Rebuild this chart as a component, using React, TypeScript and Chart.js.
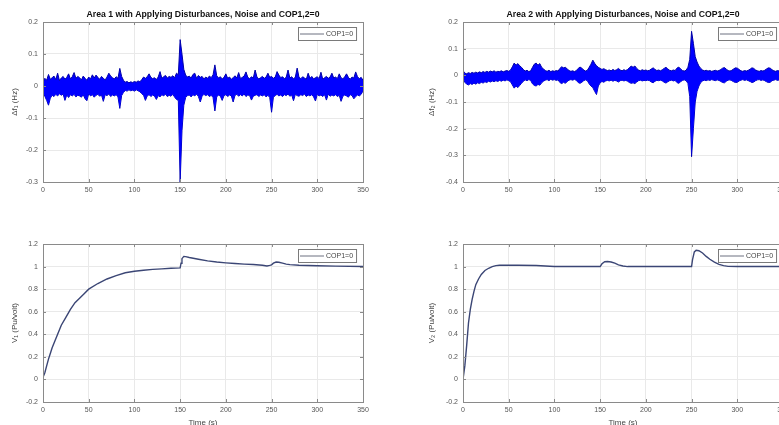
import { useEffect, useRef } from "react";
import { Chart, registerables } from "chart.js";

Chart.register(...registerables);

const FONT_FAMILY = "'Liberation Sans', Arial, Helvetica, sans-serif";
const CANVAS_W = 800;
const CANVAS_H = 440;
const VIEW_W = 779;
const VIEW_H = 425;

// time axis (s)
const TIME_MIN = 0;
const TIME_MAX = 350;
const TIME_TICK = 50;
// the frequency-deviation records are stored every 2 s
const SAMPLE_STEP = 2;

const TITLE_AREA1 = "Area 1 with Applying Disturbances, Noise and COP1,2=0";
const TITLE_AREA2 = "Area 2 with Applying Disturbances, Noise and COP1,2=0";
const LEGEND_LABEL = "COP1=0";
const Y_LABEL_F1 = "Δf₁ (Hz)";
const Y_LABEL_F2 = "Δf₂ (Hz)";
const Y_LABEL_V1 = "V₁ (Pu/volt)";
const Y_LABEL_V2 = "V₂ (Pu/volt)";
const X_LABEL = "Time (s)";

// Area 1 frequency deviation: upper / lower envelope of the noisy trace (Hz)
const F1_HI = [
  0.012, 0.024, 0.018, 0.036, 0.021, 0.026, 0.031, 0.020, 0.040, 0.017,
  0.025, 0.030, 0.021, 0.027, 0.038, 0.022, 0.029, 0.042, 0.024, 0.030,
  0.026, 0.019, 0.031, 0.024, 0.018, 0.028, 0.022, 0.035, 0.025, 0.034,
  0.027, 0.021, 0.030, 0.024, 0.019, 0.028, 0.040, 0.031, 0.026, 0.022,
  0.029, 0.024, 0.055, 0.030, 0.018, 0.012, 0.014, 0.010, 0.013, 0.011,
  0.014, 0.012, 0.016, 0.013, 0.020, 0.028, 0.024, 0.029, 0.038, 0.027,
  0.023, 0.026, 0.020, 0.028, 0.045, 0.024, 0.029, 0.033, 0.025, 0.030,
  0.027, 0.032, 0.026, 0.040, 0.035, 0.145, 0.100, 0.052, 0.034, 0.028,
  0.031, 0.025, 0.036, 0.040, 0.024, 0.033, 0.027, 0.030, 0.022, 0.028,
  0.024, 0.031, 0.026, 0.035, 0.066, 0.032, 0.025, 0.029, 0.022, 0.027,
  0.038, 0.024, 0.028, 0.021, 0.026, 0.032, 0.025, 0.042, 0.023, 0.027,
  0.031, 0.044, 0.027, 0.023, 0.029, 0.025, 0.050, 0.028, 0.022, 0.026,
  0.030, 0.024, 0.028, 0.040, 0.027, 0.030, 0.024, 0.028, 0.045, 0.034,
  0.026, 0.029, 0.023, 0.027, 0.050, 0.025, 0.029, 0.022, 0.028, 0.056,
  0.027, 0.023, 0.029, 0.025, 0.021, 0.040, 0.024, 0.030, 0.022, 0.026,
  0.029, 0.023, 0.043, 0.021, 0.026, 0.030, 0.024, 0.028, 0.040, 0.025,
  0.028, 0.023, 0.038, 0.026, 0.022, 0.029, 0.038, 0.027, 0.021, 0.028,
  0.025, 0.044, 0.029, 0.023, 0.027, 0.018,
];
const F1_LO = [
  -0.020, -0.032, -0.045, -0.060, -0.038, -0.029, -0.033, -0.026, -0.031, -0.024,
  -0.029, -0.025, -0.045, -0.028, -0.036, -0.027, -0.031, -0.026, -0.034, -0.029,
  -0.031, -0.035, -0.027, -0.040, -0.046, -0.024, -0.031, -0.027, -0.035, -0.029,
  -0.026, -0.032, -0.028, -0.048, -0.027, -0.030, -0.025, -0.033, -0.028, -0.031,
  -0.027, -0.034, -0.070, -0.030, -0.020, -0.014, -0.016, -0.012, -0.015, -0.013,
  -0.016, -0.012, -0.015, -0.018, -0.024, -0.029, -0.045, -0.031, -0.027, -0.033,
  -0.028, -0.032, -0.042, -0.030, -0.034, -0.027, -0.031, -0.025, -0.033, -0.029,
  -0.032, -0.026, -0.035, -0.042, -0.045, -0.300, -0.140, -0.060, -0.036, -0.030,
  -0.028, -0.034, -0.027, -0.031, -0.025, -0.033, -0.050, -0.032, -0.026, -0.030,
  -0.027, -0.033, -0.029, -0.036, -0.078, -0.034, -0.028, -0.032, -0.045, -0.030,
  -0.027, -0.033, -0.028, -0.031, -0.050, -0.029, -0.026, -0.032, -0.027, -0.031,
  -0.025, -0.033, -0.028, -0.030, -0.044, -0.032, -0.029, -0.027, -0.033, -0.028,
  -0.031, -0.027, -0.034, -0.029, -0.036, -0.082, -0.035, -0.030, -0.026, -0.031,
  -0.028, -0.033, -0.027, -0.030, -0.025, -0.032, -0.028, -0.046, -0.026, -0.030,
  -0.032, -0.027, -0.030, -0.025, -0.033, -0.028, -0.031, -0.027, -0.034, -0.047,
  -0.026, -0.031, -0.028, -0.033, -0.027, -0.044, -0.025, -0.032, -0.028, -0.031,
  -0.027, -0.033, -0.029, -0.048, -0.032, -0.028, -0.031, -0.035, -0.027, -0.030,
  -0.040, -0.033, -0.028, -0.031, -0.026, -0.015,
];

// Area 2 frequency deviation: upper / lower envelope (Hz)
const F2_HI = [
  0.018, 0.008, 0.006, 0.010, 0.007, 0.011, 0.008, 0.012, 0.009, 0.013,
  0.010, 0.014, 0.011, 0.015, 0.012, 0.016, 0.013, 0.017, 0.012, 0.015,
  0.014, 0.017, 0.013, 0.016, 0.018, 0.015, 0.020, 0.032, 0.046, 0.038,
  0.044, 0.036, 0.030, 0.022, 0.016, 0.019, 0.014, 0.017, 0.030, 0.042,
  0.046, 0.038, 0.044, 0.030, 0.024, 0.018, 0.015, 0.019, 0.014, 0.017,
  0.015, 0.018, 0.016, 0.026, 0.032, 0.028, 0.030, 0.024, 0.018, 0.015,
  0.017, 0.014, 0.018, 0.026, 0.031, 0.027, 0.020, 0.016, 0.019, 0.030,
  0.042, 0.057, 0.045, 0.036, 0.030, 0.026, 0.022, 0.025, 0.021, 0.018,
  0.020, 0.017, 0.022, 0.018, 0.021, 0.026, 0.020, 0.017, 0.021, 0.018,
  0.022, 0.028, 0.035, 0.030, 0.035, 0.026, 0.020, 0.017, 0.021, 0.018,
  0.020, 0.017, 0.019, 0.024, 0.028, 0.022, 0.018, 0.020, 0.017, 0.021,
  0.026, 0.030, 0.024, 0.019, 0.017, 0.020, 0.018, 0.027, 0.031, 0.024,
  0.018, 0.016, 0.019, 0.030, 0.060, 0.165, 0.120, 0.070, 0.050, 0.035,
  0.026, 0.020, 0.017, 0.019, 0.016, 0.018, 0.015, 0.017, 0.019, 0.016,
  0.018, 0.022, 0.027, 0.029, 0.023, 0.018, 0.016, 0.019, 0.024, 0.028,
  0.027, 0.022, 0.017, 0.015, 0.018, 0.016, 0.019, 0.023, 0.028, 0.026,
  0.020, 0.017, 0.015, 0.018, 0.016, 0.019, 0.024, 0.028, 0.027, 0.021,
  0.017, 0.015, 0.018, 0.016, 0.014, 0.012,
];
const F2_LO = [
  -0.005, -0.026, -0.033, -0.036, -0.031, -0.034, -0.029, -0.033, -0.028, -0.031,
  -0.026, -0.029, -0.024, -0.027, -0.022, -0.025, -0.021, -0.024, -0.020, -0.023,
  -0.019, -0.022, -0.018, -0.021, -0.017, -0.020, -0.024, -0.036, -0.048, -0.040,
  -0.046, -0.038, -0.030, -0.022, -0.017, -0.020, -0.016, -0.019, -0.032, -0.038,
  -0.040, -0.034, -0.037, -0.028, -0.022, -0.018, -0.016, -0.020, -0.015, -0.018,
  -0.016, -0.019, -0.017, -0.027, -0.031, -0.026, -0.030, -0.023, -0.018, -0.016,
  -0.018, -0.015, -0.019, -0.027, -0.030, -0.026, -0.020, -0.017, -0.020, -0.032,
  -0.040, -0.046, -0.060, -0.072, -0.040, -0.028, -0.023, -0.026, -0.021, -0.019,
  -0.021, -0.018, -0.022, -0.019, -0.021, -0.025, -0.020, -0.018, -0.021, -0.019,
  -0.022, -0.027, -0.030, -0.028, -0.031, -0.025, -0.020, -0.018, -0.021, -0.019,
  -0.020, -0.018, -0.020, -0.025, -0.028, -0.022, -0.019, -0.020, -0.018, -0.021,
  -0.026, -0.029, -0.024, -0.020, -0.018, -0.021, -0.019, -0.027, -0.030, -0.024,
  -0.019, -0.017, -0.020, -0.030, -0.080, -0.305, -0.200, -0.100, -0.060, -0.040,
  -0.027, -0.021, -0.018, -0.020, -0.017, -0.019, -0.016, -0.018, -0.020, -0.017,
  -0.019, -0.023, -0.027, -0.028, -0.022, -0.018, -0.017, -0.020, -0.024, -0.027,
  -0.026, -0.021, -0.018, -0.016, -0.019, -0.017, -0.020, -0.023, -0.027, -0.025,
  -0.020, -0.017, -0.016, -0.019, -0.017, -0.020, -0.024, -0.027, -0.026, -0.020,
  -0.018, -0.016, -0.019, -0.017, -0.015, -0.012,
];

// Area 1 terminal voltage (pu)
const V1_T = [
  0, 2, 4, 6, 8, 10, 13, 16, 20, 25, 30, 35, 40, 45, 50, 60, 70, 80, 90, 100,
  110, 120, 130, 140, 150, 151, 152, 154, 156, 160, 170, 180, 190, 200, 210,
  220, 230, 240, 245, 248, 250, 252, 255, 258, 262, 266, 270, 280, 290, 300, 320, 350,
];
const V1 = [
  0.02, 0.06, 0.12, 0.18, 0.23, 0.28, 0.34, 0.4, 0.48, 0.55, 0.62, 0.68, 0.72, 0.76, 0.8, 0.85, 0.89, 0.92, 0.945, 0.958,
  0.968, 0.975, 0.98, 0.985, 0.988, 1.03, 1.07, 1.09, 1.088, 1.08, 1.065, 1.05, 1.04, 1.033, 1.027,
  1.022, 1.018, 1.012, 1.005, 1.01, 1.015, 1.03, 1.04, 1.038, 1.03, 1.022, 1.017, 1.012, 1.01, 1.007, 1.004, 1.0,
];

// Area 2 terminal voltage (pu)
const V2_T = [
  0, 2, 4, 6, 8, 10, 12, 14, 17, 20, 24, 28, 32, 36, 40, 50, 60, 80, 90, 100,
  120, 140, 150, 152, 155, 158, 162, 166, 170, 175, 180, 200, 250, 251, 253, 255,
  258, 262, 266, 270, 275, 280, 285, 290, 300, 350,
];
const V2 = [
  0.0, 0.12, 0.3, 0.5, 0.62, 0.71, 0.78, 0.84, 0.89, 0.93, 0.965, 0.985, 1.0, 1.008, 1.012, 1.013, 1.012, 1.01, 1.005, 1.0,
  1.0, 1.0, 1.0, 1.025, 1.043, 1.045, 1.04, 1.03, 1.015, 1.005, 1.0, 1.0, 1.0, 1.06, 1.13, 1.145,
  1.14, 1.12, 1.09, 1.065, 1.04, 1.02, 1.008, 1.002, 1.0, 1.0,
];

const BAND_FILL = "#0000ff";
const BAND_EDGE = "#0000a8";
const VOLT_LINE = "#3b4675";
const GRID_COLOR = "#e9e9e9";
const FRAME_COLOR = "#8a8a8a";
const TICK_COLOR = "#555555";

type Pt = { x: number; y: number };
const sampled = (vals: number[]): Pt[] => vals.map((y, i) => ({ x: i * SAMPLE_STEP, y }));
const paired = (ts: number[], vals: number[]): Pt[] => vals.map((y, i) => ({ x: ts[i], y }));

// tick labels without trailing zeros ("0", "1", "0.2")
const tickText = (v: number | string) => {
  const n = Math.round(Number(v) * 1000) / 1000;
  return String(n === 0 ? 0 : n);
};

type Frame = { left: number; right: number; top: number; bottom: number };

// box around the axes, inward tick marks on all four sides and a boxed legend
const framePlugin = {
  id: "frameBox",
  afterDatasetsDraw(chart: any) {
    const { ctx, chartArea } = chart;
    const { left, right, top, bottom } = chartArea;
    const xs = chart.scales.x;
    const ys = chart.scales.y;
    const L = 3;
    ctx.save();
    ctx.strokeStyle = FRAME_COLOR;
    ctx.lineWidth = 1;
    ctx.strokeRect(Math.round(left) + 0.5, Math.round(top) + 0.5, Math.round(right - left), Math.round(bottom - top));
    ctx.beginPath();
    for (const t of xs.ticks) {
      const px = Math.round(xs.getPixelForValue(t.value)) + 0.5;
      ctx.moveTo(px, bottom);
      ctx.lineTo(px, bottom - L);
      ctx.moveTo(px, top);
      ctx.lineTo(px, top + L);
    }
    for (const t of ys.ticks) {
      const py = Math.round(ys.getPixelForValue(t.value)) + 0.5;
      ctx.moveTo(left, py);
      ctx.lineTo(left + L, py);
      ctx.moveTo(right, py);
      ctx.lineTo(right - L, py);
    }
    ctx.stroke();

    // legend
    const label = chart.data.datasets[0].label as string;
    ctx.font = `7px ${FONT_FAMILY}`;
    const tw = ctx.measureText(label).width;
    const lineLen = 24;
    const boxW = 2 + lineLen + 2 + tw + 3;
    const boxH = 13;
    const x0 = Math.round(right - 7 - boxW);
    const y0 = Math.round(top + 5);
    ctx.fillStyle = "#ffffff";
    ctx.fillRect(x0, y0, boxW, boxH);
    ctx.strokeStyle = "#7a7a7a";
    ctx.strokeRect(x0 + 0.5, y0 + 0.5, boxW, boxH);
    ctx.strokeStyle = "#6d7080";
    ctx.lineWidth = 1;
    ctx.beginPath();
    ctx.moveTo(x0 + 2, y0 + 7);
    ctx.lineTo(x0 + 2 + lineLen, y0 + 7);
    ctx.stroke();
    ctx.fillStyle = "#444444";
    ctx.textBaseline = "middle";
    ctx.textAlign = "left";
    ctx.fillText(label, x0 + 4 + lineLen, y0 + 7);
    ctx.restore();
  },
};

type PanelSpec = {
  frame: Frame;
  title?: string;
  yLabel: string;
  yLabelPad: number;
  xLabel?: string;
  yMin: number;
  yMax: number;
  yStep: number;
  datasets: any[];
};

const Y_AXIS_W = 43;
const TITLE_H = 22;
const TITLE_SIZE = 8.7;

function makeConfig(p: PanelSpec): any {
  const xAxisH = p.xLabel ? 26 : 20;
  const titleH = p.title ? TITLE_H : 0;
  const tickFont = { size: 7, family: FONT_FAMILY };
  const titleLine = TITLE_SIZE * 1.2;
  return {
    type: "line",
    data: { datasets: p.datasets },
    plugins: [framePlugin],
    options: {
      animation: false,
      responsive: false,
      devicePixelRatio: 1,
      events: [],
      layout: {
        padding: {
          left: p.frame.left - Y_AXIS_W,
          right: CANVAS_W - p.frame.right,
          top: p.frame.top - titleH,
          bottom: CANVAS_H - p.frame.bottom - xAxisH,
        },
      },
      elements: { point: { radius: 0 }, line: { tension: 0 } },
      scales: {
        x: {
          type: "linear",
          min: TIME_MIN,
          max: TIME_MAX,
          border: { display: false },
          grid: { color: GRID_COLOR, drawTicks: false, lineWidth: 1 },
          ticks: {
            stepSize: TIME_TICK,
            padding: 4,
            font: tickFont,
            color: TICK_COLOR,
            maxRotation: 0,
            autoSkip: false,
            callback: tickText,
          },
          title: p.xLabel
            ? { display: true, text: p.xLabel, font: { size: 8, family: FONT_FAMILY }, color: "#444", padding: { top: 0, bottom: 0 } }
            : { display: false },
          afterFit: (s: any) => {
            s.height = xAxisH;
          },
        },
        y: {
          type: "linear",
          min: p.yMin,
          max: p.yMax,
          border: { display: false },
          grid: { color: GRID_COLOR, drawTicks: false, lineWidth: 1 },
          ticks: { stepSize: p.yStep, padding: 5, font: tickFont, color: TICK_COLOR, callback: tickText },
          title: {
            display: true,
            text: p.yLabel,
            font: { size: 8, family: FONT_FAMILY },
            color: "#444",
            padding: { top: p.yLabelPad, bottom: 0 },
          },
          afterFit: (s: any) => {
            s.width = Y_AXIS_W;
          },
        },
      },
      plugins: {
        legend: { display: false },
        tooltip: { enabled: false },
        title: p.title
          ? {
              display: true,
              text: p.title,
              fullSize: false,
              color: "#111111",
              font: { size: TITLE_SIZE, weight: "bold", family: FONT_FAMILY, lineHeight: 1.2 },
              padding: { top: 15 - titleLine / 2, bottom: TITLE_H - 15 - titleLine / 2 },
            }
          : { display: false },
      },
    },
  };
}

function bandSets(hi: number[], lo: number[]) {
  return [
    {
      label: LEGEND_LABEL,
      data: sampled(hi),
      borderColor: BAND_EDGE,
      borderWidth: 1,
      backgroundColor: BAND_FILL,
      fill: "+1",
      pointRadius: 0,
    },
    {
      label: LEGEND_LABEL + " (min)",
      data: sampled(lo),
      borderColor: BAND_EDGE,
      borderWidth: 1,
      fill: false,
      pointRadius: 0,
    },
  ];
}

function lineSet(ts: number[], vals: number[]) {
  return [
    {
      label: LEGEND_LABEL,
      data: paired(ts, vals),
      borderColor: VOLT_LINE,
      borderWidth: 1.4,
      fill: false,
      pointRadius: 0,
    },
  ];
}

const PANELS: PanelSpec[] = [
  {
    frame: { left: 43, right: 363, top: 22, bottom: 182 },
    title: TITLE_AREA1,
    yLabel: Y_LABEL_F1,
    yLabelPad: 10,
    yMin: -0.3,
    yMax: 0.2,
    yStep: 0.1,
    datasets: bandSets(F1_HI, F1_LO),
  },
  {
    frame: { left: 463, right: 783, top: 22, bottom: 182 },
    title: TITLE_AREA2,
    yLabel: Y_LABEL_F2,
    yLabelPad: 7,
    yMin: -0.4,
    yMax: 0.2,
    yStep: 0.1,
    datasets: bandSets(F2_HI, F2_LO),
  },
  {
    frame: { left: 43, right: 363, top: 244, bottom: 402 },
    yLabel: Y_LABEL_V1,
    yLabelPad: 10,
    xLabel: X_LABEL,
    yMin: -0.2,
    yMax: 1.2,
    yStep: 0.2,
    datasets: lineSet(V1_T, V1),
  },
  {
    frame: { left: 463, right: 783, top: 244, bottom: 402 },
    yLabel: Y_LABEL_V2,
    yLabelPad: 7,
    xLabel: X_LABEL,
    yMin: -0.2,
    yMax: 1.2,
    yStep: 0.2,
    datasets: lineSet(V2_T, V2),
  },
];

export default function App() {
  const refs = useRef<(HTMLCanvasElement | null)[]>([]);

  useEffect(() => {
    const charts = PANELS.map((p, i) => new Chart(refs.current[i] as HTMLCanvasElement, makeConfig(p)));
    return () => charts.forEach((c) => c.destroy());
  }, []);

  return (
    <div
      style={{
        position: "fixed",
        left: 0,
        top: 0,
        width: VIEW_W,
        height: VIEW_H,
        overflow: "hidden",
        background: "#ffffff",
      }}
    >
      {PANELS.map((_, i) => (
        <canvas
          key={i}
          ref={(el) => {
            refs.current[i] = el;
          }}
          width={CANVAS_W}
          height={CANVAS_H}
          style={{ position: "absolute", left: 0, top: 0, width: CANVAS_W, height: CANVAS_H, display: "block" }}
        />
      ))}
    </div>
  );
}
